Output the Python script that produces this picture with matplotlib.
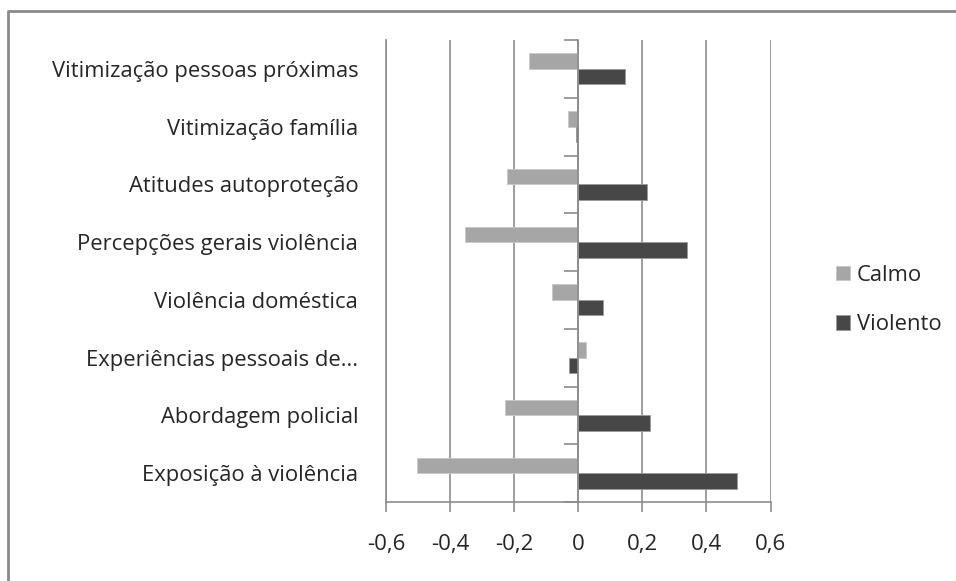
import matplotlib
matplotlib.use("Agg")
import matplotlib.pyplot as plt
import numpy as np

categories = ["Exposição à violência", "Abordagem policial", "Experiências pessoais de...",
              "Violência doméstica", "Percepções gerais violência", "Atitudes autoproteção",
              "Vitimização família", "Vitimização pessoas próximas"]
calmo = [-0.502, -0.230, 0.025, -0.082, -0.354, -0.222, -0.033, -0.154]
violento = [0.494, 0.225, -0.030, 0.077, 0.338, 0.214, -0.006, 0.146]
xticks = [-0.6, -0.4, -0.2, 0, 0.2, 0.4, 0.6]
xticklabels = ["-0,6", "-0,4", "-0,2", "0", "0,2", "0,4", "0,6"]
series_names = ["Calmo", "Violento"]

plt.rcParams['font.family'] = ['Open Sans', 'DejaVu Sans']
grid_c = "#8c8c8c"
txt_c = "#262626"
fs = 16
fs_lab = 15.8

fig = plt.figure(figsize=(9.56, 5.81), dpi=100)
ax = fig.add_axes([386/956, 1-502/581, (770.5-386)/956, (502-40)/581])

y = np.arange(len(categories))
h = 0.27
ax.barh(y + h/2, calmo, height=h, color="#a6a6a6", edgecolor="#c8c8c8", linewidth=0.6, label=series_names[0], zorder=3)
ax.barh(y - h/2, violento, height=h, color="#474747", edgecolor="#9a9a9a", linewidth=0.6, label=series_names[1], zorder=3)

ax.set_xlim(-0.6, 0.6)
ax.set_ylim(-0.5, len(categories) - 0.5)
ax.set_xticks(xticks)
ax.set_xticklabels(xticklabels, fontsize=fs, color=txt_c)
ax.set_yticks(y)
ax.set_yticklabels(categories, fontsize=fs_lab, color=txt_c)
ax.tick_params(axis='y', length=0, pad=20)
ax.tick_params(axis='x', length=7, color=grid_c, pad=16, width=1.2)
ax.xaxis.grid(True, color=grid_c, linewidth=1.2, zorder=0)
for s in ["top", "right"]:
    ax.spines[s].set_visible(False)
for s in ["left", "bottom"]:
    ax.spines[s].set_color(grid_c)
    ax.spines[s].set_linewidth(1.2)

# zero axis with category boundary ticks
ax2 = ax.twinx()
ax2.set_ylim(ax.get_ylim())
for s in ["top", "right", "bottom"]:
    ax2.spines[s].set_visible(False)
ax2.spines["left"].set_position(("data", 0))
ax2.spines["left"].set_color(grid_c)
ax2.spines["left"].set_linewidth(1.2)
ax2.yaxis.set_ticks_position("left")
ax2.set_yticks(np.arange(len(categories) + 1) - 0.5)
ax2.set_yticklabels([])
ax2.tick_params(axis='y', length=10, color=grid_c, width=1.2, direction='out')
ax2.patch.set_visible(False)

handles, labels = ax.get_legend_handles_labels()
fig.legend(handles, labels, loc="center left", bbox_to_anchor=(816/956, 1-300/581),
           frameon=False, fontsize=fs_lab, handlelength=0.65, handleheight=0.65,
           handletextpad=0.3, labelspacing=1.3, labelcolor=txt_c)

# outer frame
fig.add_artist(plt.Line2D([8/956, 8/956, 1], [0, 1-11/581, 1-11/581],
                          transform=fig.transFigure, color="#8a8a8a", linewidth=2))

fig.savefig("out.png", dpi=100, facecolor="white")
